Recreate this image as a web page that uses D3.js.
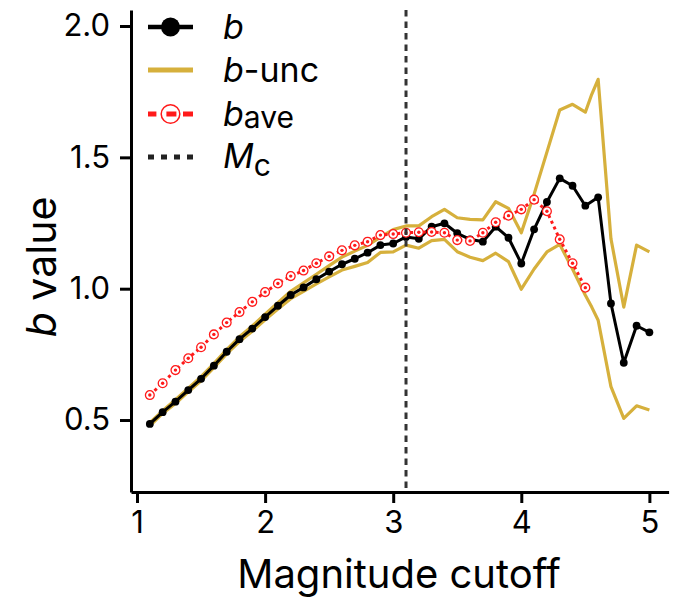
<!DOCTYPE html>
<html>
<head>
<meta charset="utf-8">
<script src="https://cdn.jsdelivr.net/npm/d3@7"></script>
<style>
  body { margin: 0; background: #fff; }
  svg text { font-family: Inter, "Noto Sans", sans-serif; fill: #000; }
</style>
</head>
<body>
<div id="chart"></div>
<script>
var width = 675;
var height = 599;

// magnitude cutoffs
var mags = [1.1,1.2,1.3,1.4,1.5,1.6,1.7,1.8,1.9,2.0,2.1,2.2,2.3,2.4,2.5,2.6,2.7,2.8,2.9,3.0,
            3.1,3.2,3.3,3.4,3.5,3.6,3.7,3.8,3.9,4.0,4.1,4.2,4.3,4.4,4.5,4.6,4.7,4.8,4.9,5.0];
// b value
var bVals = [0.485,0.53,0.57,0.614,0.657,0.707,0.76,0.808,0.848,0.892,0.935,0.976,1.005,1.036,1.065,1.093,1.114,1.137,1.166,1.172,
             1.197,1.19,1.236,1.249,1.211,1.188,1.179,1.236,1.194,1.096,1.226,1.33,1.42,1.392,1.316,1.348,0.944,0.718,0.859,0.834];
// b uncertainty band (upper / lower)
var uncMags = [1.1,1.2,1.3,1.4,1.5,1.6,1.7,1.8,1.9,2.0,2.1,2.2,2.3,2.4,2.5,2.6,2.7,2.8,2.9,3.0,
               3.1,3.2,3.3,3.4,3.5,3.6,3.7,3.8,3.9,4.0,4.1,4.2,4.3,4.4,4.5,4.55,4.6,4.7,4.8,4.9,5.0];
var uncUpper = [0.49,0.535,0.577,0.621,0.665,0.715,0.768,0.817,0.858,0.903,0.947,0.99,1.022,1.055,1.088,1.12,1.143,1.165,1.196,1.225,
                1.239,1.239,1.274,1.302,1.27,1.264,1.262,1.331,1.306,1.213,1.36,1.52,1.68,1.702,1.672,1.74,1.797,1.19,0.93,1.166,1.14];
var uncLower = [0.478,0.525,0.563,0.607,0.649,0.699,0.752,0.799,0.838,0.882,0.923,0.962,0.99,1.018,1.045,1.071,1.085,1.1,1.138,1.14,
                1.166,1.154,1.183,1.188,1.141,1.12,1.107,1.135,1.103,0.998,1.075,1.14,1.169,1.075,0.975,0.93,0.88,0.627,0.506,0.554,0.538];
// averaged b value
var aveMags = [1.1,1.2,1.3,1.4,1.5,1.6,1.7,1.8,1.9,2.0,2.1,2.2,2.3,2.4,2.5,2.6,2.7,2.8,2.9,3.0,
               3.1,3.2,3.3,3.4,3.5,3.6,3.7,3.8,3.9,4.0,4.1,4.2,4.3,4.4,4.5];
var bAve = [0.595,0.64,0.69,0.735,0.777,0.826,0.871,0.911,0.95,0.987,1.02,1.048,1.069,1.097,1.123,1.146,1.165,1.179,1.204,1.208,
            1.213,1.215,1.216,1.213,1.185,1.182,1.213,1.253,1.278,1.302,1.339,1.295,1.188,1.097,1.004];
var mc = 3.1;

var xTicks = [1, 2, 3, 4, 5];
var yTicks = [0.5, 1.0, 1.5, 2.0];

var gold = "#d6b03c";
var red = "#ff1a1a";

var svg = d3.select("#chart").append("svg")
    .attr("width", width)
    .attr("height", height);

let x = d3.scaleLinear().domain([0.953, 5.15]).range([131, 668.6]);
let y = d3.scaleLinear().domain([0.226, 2.061]).range([492, 10]);

// axes
let xAxis = svg.append("g")
    .attr("transform", "translate(0," + 492 + ")")
    .call(d3.axisBottom(x).tickValues(xTicks).tickFormat(d3.format("d")).tickSize(11).tickPadding(8).tickSizeOuter(0));
let yAxis = svg.append("g")
    .attr("transform", "translate(" + 131 + ",0)")
    .call(d3.axisLeft(y).tickValues(yTicks).tickFormat(d3.format(".1f")).tickSize(11).tickPadding(10).tickSizeOuter(0));
[xAxis, yAxis].forEach(function(a){
  a.select(".domain").attr("stroke", "#000").attr("stroke-width", 3);
  a.selectAll(".tick line").attr("stroke", "#000").attr("stroke-width", 3);
  a.selectAll(".tick text").style("font-size", "31px").attr("fill", "#000");
});

// uncertainty lines
let line = d3.line().x(function(d){ return x(d[0]); }).y(function(d){ return y(d[1]); });
svg.append("path")
    .datum(d3.zip(uncMags, uncUpper))
    .attr("d", line).attr("fill", "none").attr("stroke", gold).attr("stroke-width", 3.2)
    .attr("stroke-linejoin", "round");
svg.append("path")
    .datum(d3.zip(uncMags, uncLower))
    .attr("d", line).attr("fill", "none").attr("stroke", gold).attr("stroke-width", 3.2)
    .attr("stroke-linejoin", "round");

// b
let bData = d3.zip(mags, bVals);
svg.append("path")
    .datum(bData)
    .attr("d", line).attr("fill", "none").attr("stroke", "#000").attr("stroke-width", 3)
    .attr("stroke-linejoin", "round");
svg.append("g").selectAll("circle")
    .data(bData).enter().append("circle")
    .attr("cx", function(d){ return x(d[0]); })
    .attr("cy", function(d){ return y(d[1]); })
    .attr("r", 3.9)
    .attr("fill", "#000");

// b ave
let aveData = d3.zip(aveMags, bAve);
svg.append("path")
    .datum(aveData)
    .attr("d", line).attr("fill", "none").attr("stroke", red).attr("stroke-width", 3)
    .attr("stroke-dasharray", "3,3.4");
let aveG = svg.append("g").selectAll("g")
    .data(aveData).enter().append("g")
    .attr("transform", function(d){ return "translate(" + x(d[0]) + "," + y(d[1]) + ")"; });
aveG.append("circle").attr("r", 4.4).attr("fill", "#fff").attr("stroke", red).attr("stroke-width", 1.3);
aveG.append("circle").attr("r", 1.7).attr("fill", red);

// Mc
svg.append("line")
    .attr("x1", x(mc)).attr("x2", x(mc))
    .attr("y1", y(2.061)).attr("y2", y(0.226))
    .attr("stroke", "#333").attr("stroke-width", 3)
    .attr("stroke-dasharray", "6.5,5");

// axis labels
svg.append("text")
    .attr("x", 399).attr("y", 588)
    .attr("text-anchor", "middle")
    .style("font-size", "40px")
    .text("Magnitude cutoff");
let yl = svg.append("text")
    .attr("transform", "translate(" + 56 + "," + 267 + ") rotate(-90)")
    .attr("text-anchor", "middle")
    .style("font-size", "41px");
yl.append("tspan").style("font-style", "italic").text("b");
yl.append("tspan").text(" value");

// legend
let lg = svg.append("g");
let rows = [27, 70, 114, 157];
lg.append("line").attr("x1", 148).attr("x2", 193).attr("y1", rows[0]).attr("y2", rows[0])
  .attr("stroke", "#000").attr("stroke-width", 4.5);
lg.append("circle").attr("cx", 170.5).attr("cy", rows[0]).attr("r", 9.5).attr("fill", "#000");
lg.append("line").attr("x1", 148).attr("x2", 193).attr("y1", rows[1]).attr("y2", rows[1])
  .attr("stroke", gold).attr("stroke-width", 5);
lg.append("line").attr("x1", 148).attr("x2", 193).attr("y1", rows[2]).attr("y2", rows[2])
  .attr("stroke", red).attr("stroke-width", 5).attr("stroke-dasharray", "8.4,10,10,6.6,10");
lg.append("circle").attr("cx", 170.5).attr("cy", rows[2]).attr("r", 9.3)
  .attr("fill", "none").attr("stroke", red).attr("stroke-width", 1.5);
lg.append("line").attr("x1", 148).attr("x2", 193).attr("y1", rows[3]).attr("y2", rows[3])
  .attr("stroke", "#222").attr("stroke-width", 5).attr("stroke-dasharray", "6,7");

let fs = "34px";
let t0 = lg.append("text").attr("x", 223).attr("y", rows[0] + 12).style("font-size", fs);
t0.append("tspan").style("font-style", "italic").text("b");
let t1 = lg.append("text").attr("x", 223).attr("y", rows[1] + 12).style("font-size", fs);
t1.append("tspan").style("font-style", "italic").text("b");
t1.append("tspan").text("-unc");
let t2 = lg.append("text").attr("x", 223).attr("y", rows[2] + 12).style("font-size", fs);
t2.append("tspan").style("font-style", "italic").text("b");
t2.append("tspan").attr("dy", 2).style("font-size", "30px").text("ave");
let t3 = lg.append("text").attr("x", 223).attr("y", rows[3] + 11).style("font-size", fs);
t3.append("tspan").style("font-style", "italic").text("M");
t3.append("tspan").attr("dy", 8).style("font-size", "30px").text("c");
</script>
</body>
</html>
